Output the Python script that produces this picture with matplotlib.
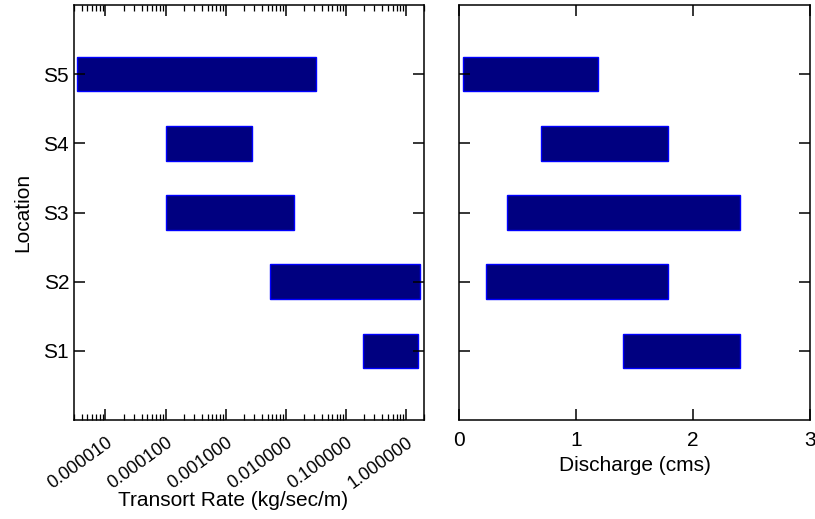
import numpy as np
import matplotlib.pyplot as plt
from matplotlib.ticker import FixedLocator, LogLocator, FuncFormatter

plt.rcParams['font.family'] = ['Liberation Sans', 'DejaVu Sans']

locations = ['S1', 'S2', 'S3', 'S4', 'S5']

# transport rate range per location (kg/sec/m)
rate_low = [0.19, 0.0054, 0.0001, 0.0001, 3.4e-6]
rate_high = [1.6, 1.7, 0.0136, 0.0028, 0.032]

# discharge range per location (cms)
q_low = [1.40, 0.23, 0.41, 0.70, 0.03]
q_high = [2.40, 1.79, 2.40, 1.79, 1.19]

fill = '#000080'
edge = '#0000ff'

fig = plt.figure(figsize=(8.15, 5.19), dpi=100)
ax1 = fig.add_axes([74 / 815, 1 - 420 / 519, 350 / 815, 415 / 519])
ax2 = fig.add_axes([459 / 815, 1 - 420 / 519, 351 / 815, 415 / 519])

ypos = np.arange(1, len(locations) + 1)

ax1.barh(ypos, np.array(rate_high) - np.array(rate_low), left=rate_low,
         height=0.5, color=fill, edgecolor=edge, linewidth=1)
ax1.set_xscale('log')
ax1.set_xlim(3e-6, 2.0)
ax1.set_ylim(0, 6)
ax1.xaxis.set_major_locator(FixedLocator([1e-5, 1e-4, 1e-3, 1e-2, 1e-1, 1e0]))
ax1.xaxis.set_minor_locator(LogLocator(base=10, subs=np.arange(2, 10), numticks=20))
ax1.xaxis.set_major_formatter(FuncFormatter(lambda v, p: '%.6f' % v))
ax1.set_yticks(ypos)
ax1.set_yticklabels(locations)
ax1.set_xlabel('Transort Rate (kg/sec/m)', fontsize=15)
ax1.xaxis.set_label_coords(0.455, -0.172)
ax1.set_ylabel('Location', fontsize=15, labelpad=8)

ax2.barh(ypos, np.array(q_high) - np.array(q_low), left=q_low,
         height=0.5, color=fill, edgecolor=edge, linewidth=1)
ax2.set_xlim(0, 3)
ax2.set_ylim(0, 6)
ax2.set_xticks([0, 1, 2, 3])
ax2.set_yticks(ypos)
ax2.set_yticklabels([])
ax2.set_xlabel('Discharge (cms)', fontsize=15, labelpad=4)

for ax in (ax1, ax2):
    ax.tick_params(which='both', direction='in', top=True, right=True)
    ax.tick_params(which='major', length=8, width=1.1, labelsize=15)
    ax.tick_params(which='minor', length=4, width=0.9)
    ax.tick_params(axis='x', which='major', pad=8)
    for s in ax.spines.values():
        s.set_linewidth(1.1)

ax1.tick_params(axis='x', labelsize=13, pad=10)
for lab in ax1.get_xticklabels():
    lab.set_rotation(36)
    lab.set_ha('right')
    lab.set_rotation_mode('anchor')

fig.savefig('out.png', dpi=100)
